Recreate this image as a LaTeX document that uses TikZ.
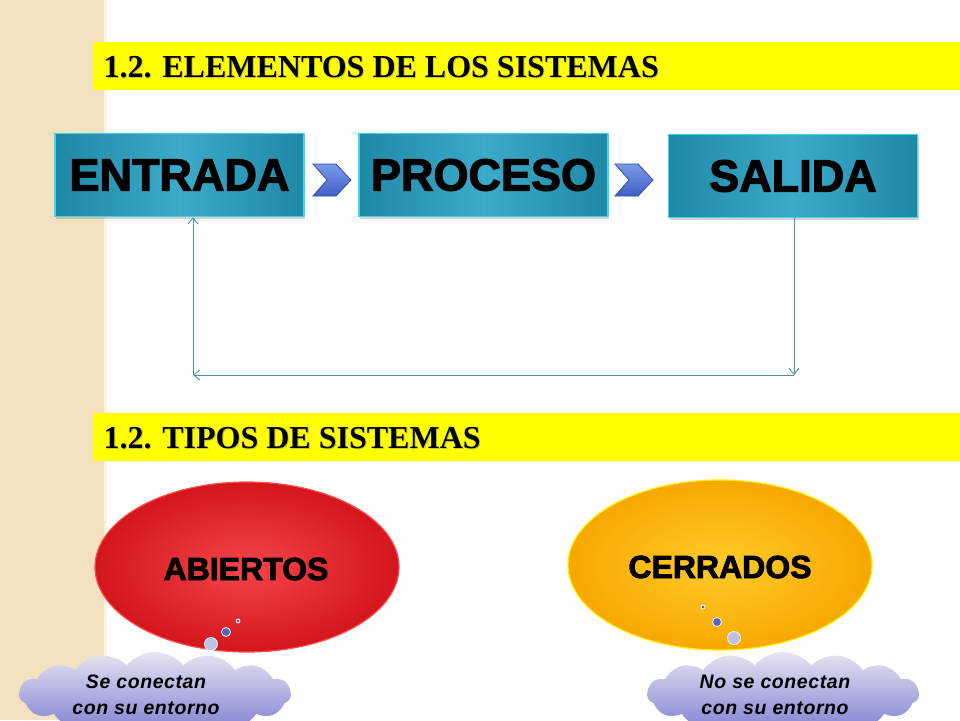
\documentclass[tikz,border=0pt]{standalone}
\usepackage{fontspec}
\setmainfont{Liberation Serif}
\newfontfamily\heavy[BoldFeatures={FakeBold=2.6}]{Liberation Sans}
\newfontfamily\cloudfont[LetterSpace=3]{Liberation Sans}
\usetikzlibrary{shapes.symbols,shapes.geometric,arrows.meta,shadows}
\definecolor{beige}{HTML}{F3E2BF}
\definecolor{ybar}{HTML}{FFFF00}
\definecolor{tealdark}{HTML}{1E88A6}
\definecolor{teallight}{HTML}{3CAACA}
\definecolor{tealedge}{HTML}{3ED4EA}
\definecolor{loop}{HTML}{4A93A3}
\definecolor{chevA}{HTML}{3F5FC8}
\definecolor{chevB}{HTML}{7A9AEA}
\definecolor{redin}{HTML}{F5444A}
\definecolor{redout}{HTML}{D2161C}
\definecolor{yin}{HTML}{FFCC2A}
\definecolor{yout}{HTML}{F7A800}
\definecolor{cloudtop}{HTML}{E4E4F2}
\definecolor{cloudbot}{HTML}{7C7CD0}
\definecolor{dotblue}{HTML}{5A62B8}
\tikzset{
  titlebar/.style={fill=ybar, draw=none, minimum height=48pt, minimum width=867pt, inner sep=0pt},
  titletext/.style={font=\bfseries\fontsize{32}{32}\selectfont, anchor=west, inner sep=0pt},
  stagebox/.style={draw=tealedge, line width=1.5pt, left color=tealdark, right color=tealdark, middle color=teallight,
     minimum width=249pt, minimum height=83pt, inner sep=0pt,
     drop shadow={opacity=0.35, shadow xshift=1pt, shadow yshift=-2pt}},
  stagetext/.style={font=\heavy\bfseries\fontsize{45}{45}\selectfont, inner sep=0pt},
  chev/.style={draw=chevA!80!black, line width=0.8pt, top color=chevB, bottom color=chevA},
  loopline/.style={draw=loop, line width=0.9pt, -{Straight Barb[length=6pt,width=10pt]}},
  typeell/.style={ellipse, minimum width=304pt, minimum height=170pt, inner sep=0pt},
  typetext/.style={font=\heavy\bfseries\fontsize{32}{32}\selectfont, inner sep=0pt},
  thinkdot/.style={circle, draw=white, line width=0.8pt, fill=dotblue, inner sep=0pt},
  thought/.style={cloud, cloud puffs=15, cloud puff arc=100, aspect=3.6, minimum width=272pt, minimum height=84pt,
     inner sep=0pt, top color=cloudtop, bottom color=cloudbot, draw=none},
  thoughttext/.style={font=\cloudfont\bfseries\itshape\fontsize{19.5}{26}\selectfont, align=center, inner sep=0pt}
}
\begin{document}
\begin{tikzpicture}[x=1pt,y=-1pt]
\useasboundingbox (0,0) rectangle (960,720);
\begin{scope}
\clip (0,0) rectangle (960,720);
% left strip
\fill[beige] (0,0) rectangle (106,720);
\fill[white!60!beige] (104,0) rectangle (107,720);
% title bars
\node[titlebar, anchor=north west] (bar1) at (93,42) {};
\node[titletext, text=black!50, opacity=0.45] at (104.5,68) {1.2. ELEMENTOS DE LOS SISTEMAS};
\node[titletext] (t1) at (103.5,67) {1.2. ELEMENTOS DE LOS SISTEMAS};
\node[titlebar, anchor=north west] (bar2) at (93,413) {};
\node[titletext, text=black!50, opacity=0.45] at (104.5,439) {1.2. TIPOS DE SISTEMAS};
\node[titletext] (t2) at (103.5,438) {1.2. TIPOS DE SISTEMAS};

% stage boxes
\node[stagebox] (entrada) at (179.5,175) {};
\node[stagebox] (proceso) at (483.5,175) {};
\node[stagebox] (salida) at (793,176) {};
\node[stagetext] (entradaT) at (entrada.center) {ENTRADA};
\node[stagetext] (procesoT) at (proceso.center) {PROCESO};
\node[stagetext] (salidaT) at (salida.center) {SALIDA};

% chevrons
\draw[chev] (313,164) -- (336,164) -- (351,180) -- (336,196) -- (313,196) -- (327,180) -- cycle;
\draw[chev] (615,164) -- (638,164) -- (653,180) -- (638,196) -- (615,196) -- (629,180) -- cycle;

% feedback loop
\coordinate (c1) at (794,375);
\coordinate (c2) at (193,375);
\draw[loopline] (salida.south -| c1) -- (c1);
\draw[loopline] (c1) -- (c2);
\draw[loopline] (c2) -- (c2 |- entrada.south);

% system types
\node[typeell, inner color=redin, outer color=redout, draw=red!70!white, line width=1.2pt] (abiertos) at (247,567) {};
\node[typeell, inner color=yin, outer color=yout, draw=yellow, line width=1.2pt] (cerrados) at (720,565) {};
\node[typetext] (abiertosT) at (246,569) {ABIERTOS};
\node[typetext] (cerradosT) at (720,567) {CERRADOS};

% thought dots
\node[thinkdot, minimum size=4pt] (a1) at (238,621) {};
\node[thinkdot, minimum size=9pt] (a2) at (226,632) {};
\node[thinkdot, minimum size=13pt, fill=dotblue!40] (a3) at (211,644) {};
\node[thinkdot, minimum size=4pt] (b1) at (703,607) {};
\node[thinkdot, minimum size=9pt] (b2) at (717,622) {};
\node[thinkdot, minimum size=13pt, fill=dotblue!40] (b3) at (734,638) {};

% clouds
\node[thought] (cl1) at (155,694) {};
\node[thought] (cl2) at (783,694) {};
\node[thoughttext] (cl1T) at (146,695) {Se conectan\\con su entorno};
\node[thoughttext] (cl2T) at (775,695) {No se conectan\\con su entorno};
\end{scope}
\end{tikzpicture}
\end{document}
